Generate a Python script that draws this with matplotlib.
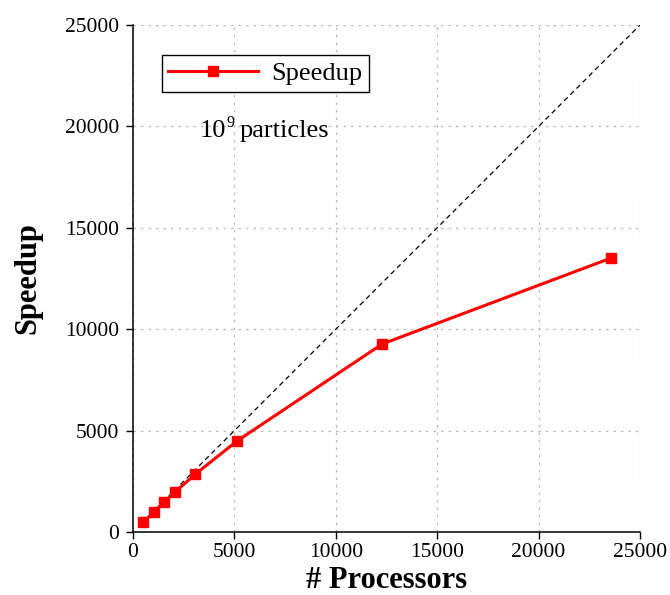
import matplotlib
matplotlib.use("Agg")
import matplotlib.pyplot as plt

# Strong-scaling results, 10^9 particles
processors = [512, 1024, 1536, 2048, 3072, 5120, 12288, 23552]
speedup = [480, 985, 1475, 1950, 2850, 4480, 9270, 13500]
ideal_range = [512, 25000]
ticks = [0, 5000, 10000, 15000, 20000, 25000]

plt.rcParams["font.family"] = ["Liberation Serif", "DejaVu Serif"]

fig = plt.figure(figsize=(6.7, 5.95), dpi=100)
ax = fig.add_axes([133 / 670, 1 - 532 / 595, (640 - 133) / 670, (532 - 25) / 595])

ax.plot(ideal_range, ideal_range, color="black", lw=0.9, ls=(0, (4, 3)), zorder=2)
ax.plot(processors, speedup, color="#ff0000", lw=2.2, marker="s", markersize=7,
        label="Speedup", zorder=3)

ax.set_xlim(0, 25000)
ax.set_ylim(0, 25000)
ax.set_xticks(ticks)
ax.set_yticks(ticks)
ax.tick_params(direction="out", length=5, width=1, labelsize=15.5)
ax.tick_params(axis="x", pad=3)
ax.tick_params(axis="y", pad=5)
ax.grid(True, color="#b8b8b8", ls=(0, (2, 4)), lw=0.9)
ax.set_axisbelow(True)

for side in ("top", "right"):
    ax.spines[side].set_visible(False)
for side in ("left", "bottom"):
    ax.spines[side].set_linewidth(1.1)

ax.set_xlabel("# Processors", fontsize=22, fontweight="bold", labelpad=2.5)
ax.set_ylabel("Speedup", fontsize=22, fontweight="bold", labelpad=16)

# "10^9 particles" annotation, superscript set as its own smaller text
anchor = (3304, 19480)
ax.annotate("10", anchor, fontsize=19, ha="left", va="baseline")
ax.annotate("9", anchor, xytext=(19.2, 7.2), textcoords="offset points",
            fontsize=11.5, ha="left", va="baseline")
ax.annotate("particles", anchor, xytext=(28.5, 0), textcoords="offset points",
            fontsize=19, ha="left", va="baseline")

leg = ax.legend(loc="upper left", bbox_to_anchor=(0.057, 0.941), fontsize=19,
                numpoints=1, handlelength=3.4, fancybox=False, framealpha=1,
                edgecolor="black", borderpad=0.25, handletextpad=0.5,
                borderaxespad=0)
leg.get_frame().set_linewidth(1.0)

fig.savefig("out.png", dpi=100)
